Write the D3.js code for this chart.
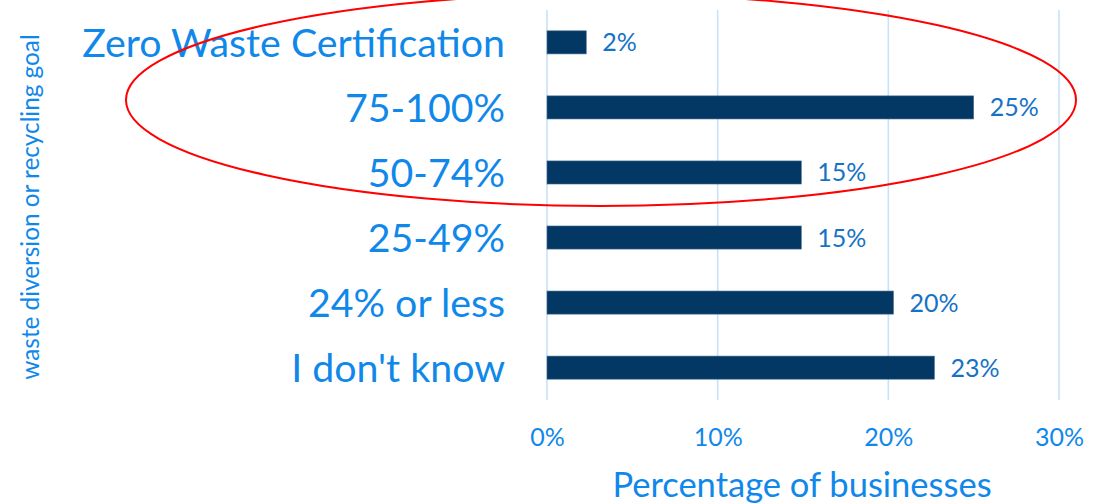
<!DOCTYPE html>
<html><head><meta charset="utf-8">
<script src="https://cdn.jsdelivr.net/npm/d3@7"></script>
<style>
html,body{margin:0;padding:0;background:#fff;}
svg{display:block;font-family:Lato,"Open Sans",sans-serif;}
</style></head>
<body><svg id="c" width="1107" height="503"></svg>
<script>
const categories = ["Zero Waste Certification","75-100%","50-74%","25-49%","24% or less","I don't know"];
const values = [2.3, 25, 14.9, 14.9, 20.3, 22.7];
const valueLabels = ["2%","25%","15%","15%","20%","23%"];
const xTicks = [0, 10, 20, 30];
const xTickLabels = ["0%","10%","20%","30%"];

const svg = d3.select("#c");
const m = {left:547, right:48, top:10, bottom:103};
const W = 1107, H = 503;
const x = d3.scaleLinear().domain([0,30]).range([m.left, W - m.right]);
const y = d3.scaleBand().domain(categories).range([m.top, H - m.bottom]).paddingInner(0.645).paddingOuter(0.32);

// gridlines
svg.append("g").selectAll("line").data(xTicks).join("line")
  .attr("x1", d=>x(d)).attr("x2", d=>x(d))
  .attr("y1", m.top).attr("y2", H - m.bottom)
  .attr("stroke","#c8e2f9").attr("stroke-width",1.6);

// bars
svg.append("g").selectAll("rect").data(categories).join("rect")
  .attr("x", x(0)).attr("y", d=>y(d))
  .attr("width", (d,i)=>x(values[i]) - x(0))
  .attr("height", y.bandwidth())
  .attr("fill","#033864").attr("stroke","#4a6f93").attr("stroke-width",0.6);

// value labels
svg.append("g").selectAll("text").data(categories).join("text")
  .attr("x", (d,i)=>x(values[i]) + 16)
  .attr("y", d=>y(d) + y.bandwidth()/2)
  .attr("dy","0.36em")
  .attr("font-size",25).attr("fill","#1672c6")
  .text((d,i)=>valueLabels[i]);

// category labels
svg.append("g").selectAll("text").data(categories).join("text")
  .attr("x", 505)
  .attr("y", d=>y(d) + y.bandwidth()/2)
  .attr("dy","0.36em").attr("text-anchor","end")
  .attr("font-size",39.3).attr("fill","#0f88ea")
  .text(d=>d);

// x axis tick labels
const xAxis = d3.axisBottom(x).tickValues(xTicks).tickFormat((d,i)=>xTickLabels[i]).tickSize(0).tickPadding(0);
const gx = svg.append("g").attr("transform",`translate(0,${H - m.bottom + 28})`).call(xAxis);
gx.select(".domain").remove();
gx.selectAll("text").attr("font-size",25).attr("fill","#0f88ea").attr("font-family","Lato,'Open Sans',sans-serif");

// axis titles
svg.append("text").attr("x",802).attr("y",497).attr("text-anchor","middle")
  .attr("font-size",34.5).attr("fill","#0f88ea").text("Percentage of businesses");
svg.append("text").attr("transform","translate(39,207) rotate(-90)").attr("text-anchor","middle")
  .attr("font-size",24.3).attr("fill","#0f88ea").text("waste diversion or recycling goal");

// red ellipse annotation
svg.append("ellipse").attr("cx",601).attr("cy",100).attr("rx",475).attr("ry",106)
  .attr("fill","none").attr("stroke","#ff0000").attr("stroke-width",2);
</script></body></html>
